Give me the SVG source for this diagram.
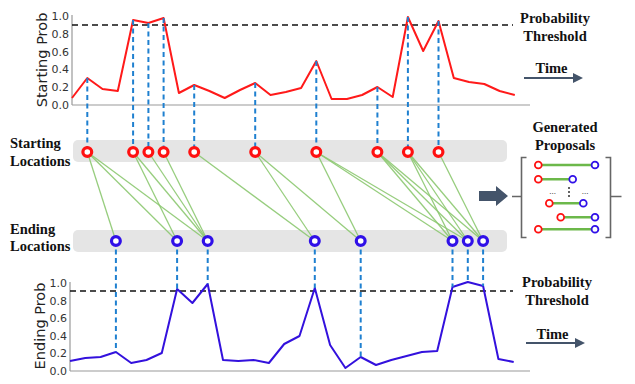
<svg xmlns="http://www.w3.org/2000/svg" width="635" height="384" viewBox="0 0 635 384">
<style>
.tick{font-family:"DejaVu Sans",sans-serif;font-size:11px;fill:#333;text-anchor:end}
.ylab{font-family:"DejaVu Sans",sans-serif;font-size:14.5px;fill:#222;text-anchor:middle}
.lab{font-family:"Liberation Serif","Times New Roman",serif;font-weight:bold;font-size:14.5px;fill:#111}
.mid{text-anchor:middle}
.axis{stroke:#999;stroke-width:1.2;fill:none}
.thr{stroke:#111;stroke-width:1.6;stroke-dasharray:6 4;fill:none}
.vd{stroke:#1f80d0;stroke-width:2;stroke-dasharray:5 3.5;fill:none}
.band{fill:#e5e5e5}
.conn{stroke:#8cc870;stroke-width:1.3;fill:none;opacity:0.9}
.sc{fill:#fff;stroke:#ff1010;stroke-width:3.2}
.ec{fill:#fff;stroke:#3010e8;stroke-width:3.2}
.psc{fill:#fff;stroke:#ff1010;stroke-width:1.8}
.pec{fill:#fff;stroke:#3010e8;stroke-width:1.8}
.pl{stroke:#6cb84a;stroke-width:2.5}
.brk{stroke:#666;stroke-width:1.6;fill:none}
.dark{fill:#44546a}
</style>
<defs>
<marker id="ah" markerWidth="10" markerHeight="10" refX="2" refY="5" orient="auto" markerUnits="userSpaceOnUse">
<path d="M0,0 L10,5 L0,10 Z" fill="#44546a"/>
</marker>
</defs>

<g id="top-chart">
<line class="axis" x1="72" y1="15" x2="72" y2="105"/>
<line class="axis" x1="72" y1="105" x2="530" y2="105"/>
<text class="tick" x="69" y="20">1.0</text>
<text class="tick" x="69" y="37.8">0.8</text>
<text class="tick" x="69" y="55.6">0.6</text>
<text class="tick" x="69" y="73.4">0.4</text>
<text class="tick" x="69" y="91.2">0.2</text>
<text class="tick" x="69" y="109">0.0</text>
<text class="ylab" transform="translate(47,60) rotate(-90)">Starting Prob</text>
<line class="thr" x1="72" y1="25" x2="513" y2="25"/>
<polyline fill="none" stroke="#ff1a1a" stroke-width="2" stroke-linejoin="round" points="72,98 87.3,78 102.5,89 117.8,91 133.1,20 148.4,23 163.6,18 178.9,93 194.2,85 209.4,91 224.7,98 240,90 255.2,83 270.5,95 285.8,92 301.1,88 316.3,61 331.6,99 346.9,99 362.1,95 377.4,87 392.7,97 407.9,17 423.2,51 438.5,21 453.8,78 469,82 484.3,84 499.6,91 514.8,95"/>
<text class="lab mid" x="555" y="23">Probability</text>
<text class="lab mid" x="555" y="41">Threshold</text>
<text class="lab mid" x="551.5" y="73">Time</text>
<line x1="524" y1="78" x2="575" y2="78" stroke="#44546a" stroke-width="2" marker-end="url(#ah)"/>
</g>

<g id="bottom-chart">
<line class="axis" x1="70" y1="282" x2="70" y2="371"/>
<line class="axis" x1="70" y1="371" x2="530" y2="371"/>
<text class="tick" x="67" y="287">1.0</text>
<text class="tick" x="67" y="304.6">0.8</text>
<text class="tick" x="67" y="322.2">0.6</text>
<text class="tick" x="67" y="339.8">0.4</text>
<text class="tick" x="67" y="357.4">0.2</text>
<text class="tick" x="67" y="375">0.0</text>
<text class="ylab" transform="translate(44.5,326) rotate(-90)">Ending Prob</text>
<line class="thr" x1="70" y1="291" x2="513" y2="291"/>
<polyline fill="none" stroke="#3311dd" stroke-width="2" stroke-linejoin="round" points="70,361 85.3,358 100.6,357 115.9,352 131.2,363 146.5,360 161.8,353 177.1,289 192.4,303 207.7,284 223,360 238.3,361 253.6,360 268.9,363 284.2,344 299.5,336 314.8,288 330.1,345 345.4,368 360.7,357 376,365 391.3,360 406.6,356 421.9,352 437.2,351 452.5,287 467.8,282 483.1,286 498.4,359 513.7,362"/>
<text class="lab mid" x="557" y="287">Probability</text>
<text class="lab mid" x="557" y="305">Threshold</text>
<text class="lab mid" x="552.5" y="339">Time</text>
<line x1="526" y1="343" x2="577" y2="343" stroke="#44546a" stroke-width="2" marker-end="url(#ah)"/>
</g>

<g id="starting-band">
<rect class="band" x="73" y="140" width="434" height="22" rx="5"/>
<text class="lab" x="10" y="148">Starting</text>
<text class="lab" x="10" y="165.5">Locations</text>
</g>
<g id="ending-band">
<rect class="band" x="73" y="230" width="434" height="22" rx="5"/>
<text class="lab" x="10" y="233.5">Ending</text>
<text class="lab" x="10" y="251">Locations</text>
</g>

<g id="vertical-links">
<line class="vd" x1="87.3" y1="78" x2="87.3" y2="152"/>
<line class="vd" x1="133.1" y1="20" x2="133.1" y2="152"/>
<line class="vd" x1="148.4" y1="23" x2="148.4" y2="152"/>
<line class="vd" x1="163.6" y1="18" x2="163.6" y2="152"/>
<line class="vd" x1="194.2" y1="85" x2="194.2" y2="152"/>
<line class="vd" x1="255.2" y1="83" x2="255.2" y2="152"/>
<line class="vd" x1="316.3" y1="61" x2="316.3" y2="152"/>
<line class="vd" x1="377.4" y1="87" x2="377.4" y2="152"/>
<line class="vd" x1="407.9" y1="17" x2="407.9" y2="152"/>
<line class="vd" x1="438.5" y1="21" x2="438.5" y2="152"/>
<line class="vd" x1="115.9" y1="241" x2="115.9" y2="352"/>
<line class="vd" x1="177.1" y1="241" x2="177.1" y2="289"/>
<line class="vd" x1="207.7" y1="241" x2="207.7" y2="284"/>
<line class="vd" x1="314.8" y1="241" x2="314.8" y2="288"/>
<line class="vd" x1="360.7" y1="241" x2="360.7" y2="357"/>
<line class="vd" x1="452.5" y1="241" x2="452.5" y2="287"/>
<line class="vd" x1="467.8" y1="241" x2="467.8" y2="282"/>
<line class="vd" x1="483.1" y1="241" x2="483.1" y2="286"/>
</g>

<g id="connectors">
<line class="conn" x1="87.3" y1="152" x2="115.9" y2="241"/>
<line class="conn" x1="87.3" y1="152" x2="177.1" y2="241"/>
<line class="conn" x1="87.3" y1="152" x2="207.7" y2="241"/>
<line class="conn" x1="133.1" y1="152" x2="177.1" y2="241"/>
<line class="conn" x1="133.1" y1="152" x2="207.7" y2="241"/>
<line class="conn" x1="148.4" y1="152" x2="207.7" y2="241"/>
<line class="conn" x1="163.6" y1="152" x2="207.7" y2="241"/>
<line class="conn" x1="194.2" y1="152" x2="314.8" y2="241"/>
<line class="conn" x1="255.2" y1="152" x2="314.8" y2="241"/>
<line class="conn" x1="255.2" y1="152" x2="360.7" y2="241"/>
<line class="conn" x1="316.3" y1="152" x2="360.7" y2="241"/>
<line class="conn" x1="316.3" y1="152" x2="452.5" y2="241"/>
<line class="conn" x1="316.3" y1="152" x2="467.8" y2="241"/>
<line class="conn" x1="377.4" y1="152" x2="452.5" y2="241"/>
<line class="conn" x1="377.4" y1="152" x2="467.8" y2="241"/>
<line class="conn" x1="377.4" y1="152" x2="483.1" y2="241"/>
<line class="conn" x1="407.9" y1="152" x2="452.5" y2="241"/>
<line class="conn" x1="407.9" y1="152" x2="467.8" y2="241"/>
<line class="conn" x1="407.9" y1="152" x2="483.1" y2="241"/>
<line class="conn" x1="438.5" y1="152" x2="483.1" y2="241"/>
</g>

<g id="starting-locations">
<circle class="sc" cx="87.3" cy="152" r="4.4"/>
<circle class="sc" cx="133.1" cy="152" r="4.4"/>
<circle class="sc" cx="148.4" cy="152" r="4.4"/>
<circle class="sc" cx="163.6" cy="152" r="4.4"/>
<circle class="sc" cx="194.2" cy="152" r="4.4"/>
<circle class="sc" cx="255.2" cy="152" r="4.4"/>
<circle class="sc" cx="316.3" cy="152" r="4.4"/>
<circle class="sc" cx="377.4" cy="152" r="4.4"/>
<circle class="sc" cx="407.9" cy="152" r="4.4"/>
<circle class="sc" cx="438.5" cy="152" r="4.4"/>
</g>
<g id="ending-locations">
<circle class="ec" cx="115.9" cy="241" r="4.4"/>
<circle class="ec" cx="177.1" cy="241" r="4.4"/>
<circle class="ec" cx="207.7" cy="241" r="4.4"/>
<circle class="ec" cx="314.8" cy="241" r="4.4"/>
<circle class="ec" cx="360.7" cy="241" r="4.4"/>
<circle class="ec" cx="452.5" cy="241" r="4.4"/>
<circle class="ec" cx="467.8" cy="241" r="4.4"/>
<circle class="ec" cx="483.1" cy="241" r="4.4"/>
</g>

<g id="big-arrow">
<path class="dark" d="M479,191 L496,191 L496,186 L508,196 L496,206 L496,201 L479,201 Z"/>
</g>

<g id="generated-proposals">
<text class="lab mid" x="565" y="132.3">Generated</text>
<text class="lab mid" x="565" y="150">Proposals</text>
<path class="brk" d="M526.5,157.5 L521.5,157.5 L521.5,237.5 L526.5,237.5 M512,196.5 L521.5,196.5"/>
<path class="brk" d="M605.5,157.5 L610.5,157.5 L610.5,237.5 L605.5,237.5 M610.5,196.5 L621.5,196.5"/>
<line class="pl" x1="538.3" y1="165" x2="595" y2="165"/>
<line class="pl" x1="538.3" y1="179.3" x2="572.7" y2="179.3"/>
<line class="pl" x1="549.3" y1="203.3" x2="583.3" y2="203.3"/>
<line class="pl" x1="560.7" y1="217.3" x2="595" y2="217.3"/>
<line class="pl" x1="538.3" y1="229.3" x2="595" y2="229.3"/>
<circle class="psc" cx="538.3" cy="165" r="3.4"/><circle class="pec" cx="595" cy="165" r="3.4"/>
<circle class="psc" cx="538.3" cy="179.3" r="3.4"/><circle class="pec" cx="572.7" cy="179.3" r="3.4"/>
<circle class="psc" cx="549.3" cy="203.3" r="3.4"/><circle class="pec" cx="583.3" cy="203.3" r="3.4"/>
<circle class="psc" cx="560.7" cy="217.3" r="3.4"/><circle class="pec" cx="595" cy="217.3" r="3.4"/>
<circle class="psc" cx="538.3" cy="229.3" r="3.4"/><circle class="pec" cx="595" cy="229.3" r="3.4"/>
<text x="552.7" y="194" font-family="Liberation Serif,serif" font-size="9" fill="#222" text-anchor="middle">...</text>
<text x="585" y="194" font-family="Liberation Serif,serif" font-size="9" fill="#222" text-anchor="middle">...</text>
<line x1="569" y1="187" x2="569" y2="198" stroke="#222" stroke-width="1.4" stroke-dasharray="2 2"/>
</g>
</svg>
